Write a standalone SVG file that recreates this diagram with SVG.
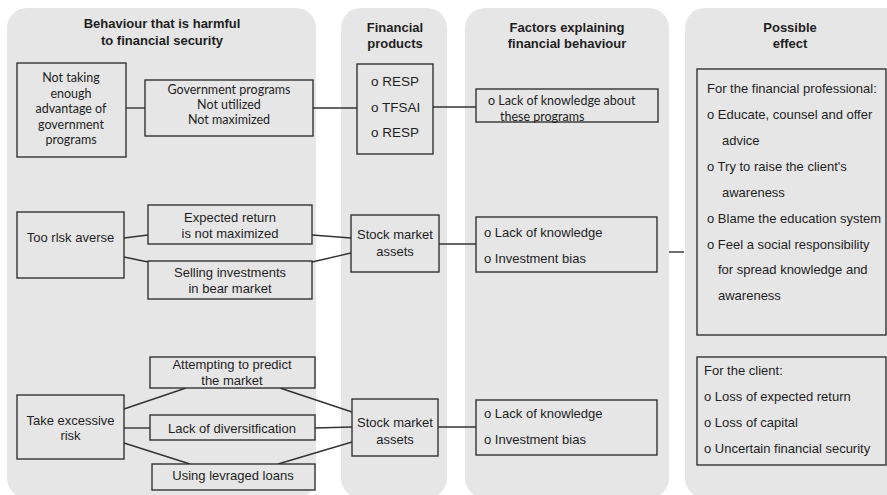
<svg xmlns="http://www.w3.org/2000/svg" width="887" height="495" viewBox="0 0 887 495">
  <style>
    .panel { fill: #e6e6e6; }
    .box { fill: #e6e6e6; stroke: #333; stroke-width: 1.4; }
    .link { stroke: #333; stroke-width: 1.4; fill: none; }
    text { font-family: "Liberation Sans", Arial, sans-serif; font-size: 13px; fill: #1e1e1e; }
    .title { font-weight: bold; text-anchor: middle; }
    .c { text-anchor: middle; }
    .cal { font-family: Lato, "Liberation Sans", sans-serif; font-size: 12.5px; }
    .big { font-size: 13.5px; }
  </style>

  <rect width="887" height="495" fill="#ffffff"/>

  <!-- column backgrounds -->
  <g id="columns">
    <rect class="panel" x="7" y="8" width="309" height="490" rx="20"/>
    <rect class="panel" x="341" y="8" width="106" height="490" rx="20"/>
    <rect class="panel" x="465" y="8" width="204" height="490" rx="20"/>
    <rect class="panel" x="685" y="8" width="222" height="490" rx="20"/>
  </g>

  <!-- column headings -->
  <g id="headings">
    <text class="title" x="162" y="28">Behaviour that is harmful</text>
    <text class="title" x="162" y="45">to financial security</text>
    <text class="title" x="395" y="32">Financial</text>
    <text class="title" x="395" y="48">products</text>
    <text class="title" x="567" y="32">Factors explaining</text>
    <text class="title" x="567" y="48">financial behaviour</text>
    <text class="title" x="790" y="32">Possible</text>
    <text class="title" x="790" y="48">effect</text>
  </g>

  <!-- connectors -->
  <g id="connectors">
    <line class="link" x1="126" y1="108" x2="145" y2="108"/>
    <line class="link" x1="313" y1="108" x2="357" y2="108"/>
    <line class="link" x1="433" y1="107" x2="476" y2="107"/>

    <line class="link" x1="124" y1="238" x2="148" y2="235"/>
    <line class="link" x1="124" y1="257" x2="148" y2="262"/>
    <line class="link" x1="312" y1="235" x2="351" y2="238"/>
    <line class="link" x1="312" y1="262" x2="351" y2="253"/>
    <line class="link" x1="439" y1="244" x2="476" y2="244"/>
    <line class="link" x1="669" y1="252" x2="684" y2="252"/>

    <line class="link" x1="124" y1="409" x2="186" y2="388"/>
    <line class="link" x1="124" y1="428" x2="150" y2="428"/>
    <line class="link" x1="124" y1="443" x2="190" y2="464"/>
    <line class="link" x1="280" y1="388" x2="352" y2="412"/>
    <line class="link" x1="315" y1="428" x2="352" y2="427"/>
    <line class="link" x1="278" y1="464" x2="352" y2="442"/>
    <line class="link" x1="438" y1="427" x2="476" y2="427"/>
  </g>

  <!-- row 1 -->
  <g id="not-taking-advantage">
    <rect class="box" x="17" y="63" width="109" height="94"/>
    <text class="c cal" x="71" y="82">Not taking</text>
    <text class="c cal" x="71" y="98">enough</text>
    <text class="c cal" x="71" y="113">advantage of</text>
    <text class="c cal" x="71" y="129">government</text>
    <text class="c cal" x="71" y="144">programs</text>
  </g>
  <g id="government-programs">
    <rect class="box" x="145" y="80" width="168" height="56"/>
    <text class="c cal" x="229" y="94">Government programs</text>
    <text class="c cal" x="229" y="109">Not utilized</text>
    <text class="c cal" x="229" y="124">Not maximized</text>
  </g>
  <g id="registered-plans">
    <rect class="box" x="357" y="64" width="76" height="90"/>
    <text class="big" x="371" y="86">o RESP</text>
    <text class="big" x="371" y="112">o TFSAI</text>
    <text class="big" x="371" y="137">o RESP</text>
  </g>
  <g id="knowledge-programs">
    <rect class="box" x="476" y="89" width="182" height="33"/>
    <text class="cal" x="488" y="105">o Lack of knowledge about</text>
    <text class="cal" x="500" y="121">these programs</text>
  </g>

  <!-- row 2 -->
  <g id="too-risk-averse">
    <rect class="box" x="17" y="212" width="107" height="66"/>
    <text class="c" x="70.5" y="242">Too rlsk averse</text>
  </g>
  <g id="expected-return">
    <rect class="box" x="148" y="205" width="164" height="39"/>
    <text class="c" x="230" y="222">Expected return</text>
    <text class="c" x="230" y="238">is not maximized</text>
  </g>
  <g id="selling-investments">
    <rect class="box" x="148" y="261" width="164" height="38"/>
    <text class="c" x="230" y="277">Selling investments</text>
    <text class="c" x="230" y="293">in bear market</text>
  </g>
  <g id="stock-assets-1">
    <rect class="box" x="351" y="215" width="88" height="57"/>
    <text class="c" x="395" y="239">Stock market</text>
    <text class="c" x="395" y="256">assets</text>
  </g>
  <g id="factors-2">
    <rect class="box" x="476" y="217" width="181" height="55"/>
    <text x="484" y="237">o Lack of knowledge</text>
    <text x="484" y="263">o Investment bias</text>
  </g>

  <!-- row 3 -->
  <g id="predict-market">
    <rect class="box" x="150" y="357" width="165" height="31"/>
    <text class="c" x="232" y="369">Attempting to predict</text>
    <text class="c" x="232" y="385">the market</text>
  </g>
  <g id="excessive-risk">
    <rect class="box" x="17" y="395" width="107" height="64"/>
    <text class="c" x="70.5" y="425">Take excessive</text>
    <text class="c" x="70.5" y="440">risk</text>
  </g>
  <g id="diversification">
    <rect class="box" x="150" y="415" width="165" height="25"/>
    <text class="c" x="232" y="433">Lack of diversitfication</text>
  </g>
  <g id="leveraged-loans">
    <rect class="box" x="152" y="464" width="163" height="26"/>
    <text class="c" x="233" y="480">Using levraged loans</text>
  </g>
  <g id="stock-assets-2">
    <rect class="box" x="352" y="399" width="86" height="57"/>
    <text class="c" x="395" y="427">Stock market</text>
    <text class="c" x="395" y="444">assets</text>
  </g>
  <g id="factors-3">
    <rect class="box" x="476" y="400" width="181" height="55"/>
    <text x="484" y="418">o Lack of knowledge</text>
    <text x="484" y="444">o Investment bias</text>
  </g>

  <!-- effects -->
  <g id="effect-professional">
    <rect class="box" x="697" y="69" width="189" height="266"/>
    <text x="707" y="93">For the financial professional:</text>
    <text x="707" y="119">o Educate, counsel and offer</text>
    <text x="722" y="145">advice</text>
    <text x="707" y="171">o Try to raise the client's</text>
    <text x="722" y="197">awareness</text>
    <text x="707" y="223">o Blame the education system</text>
    <text x="707" y="249">o Feel a social responsibility</text>
    <text x="718" y="274">for spread knowledge and</text>
    <text x="718" y="300">awareness</text>
  </g>
  <g id="effect-client">
    <rect class="box" x="697" y="357" width="189" height="108"/>
    <text x="704" y="375">For the client:</text>
    <text x="704" y="401">o Loss of expected return</text>
    <text x="704" y="427">o Loss of capital</text>
    <text x="704" y="453">o Uncertain financial security</text>
  </g>
</svg>
